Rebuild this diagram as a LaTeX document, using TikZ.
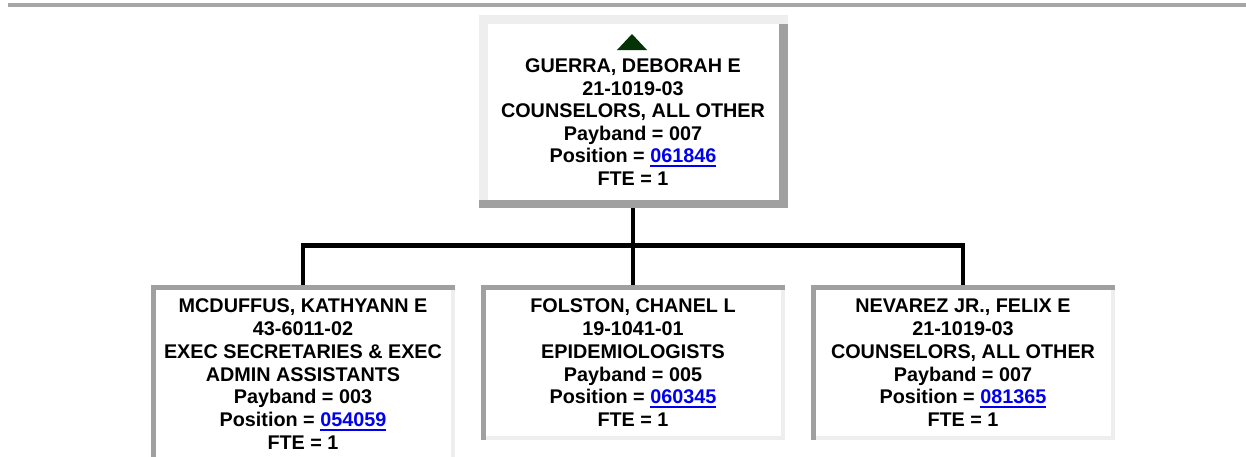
\documentclass[tikz,border=0pt]{standalone}
\usepackage{fontspec}
\setmainfont{Liberation Sans}
\usetikzlibrary{calc}
\definecolor{lightg}{HTML}{EEEEEE}
\definecolor{darkg}{HTML}{A0A0A0}
\definecolor{topline}{HTML}{A6A6A6}
\definecolor{linkblue}{HTML}{0000EE}
\definecolor{arrowgreen}{HTML}{053305}
\newcommand{\poslink}[1]{{\color{linkblue}\setbox0\hbox{#1}\rlap{\rule[-3.8pt]{\wd0}{1.8pt}}\box0}}
\newcommand{\cardlines}[1]{\begin{tabular}[t]{@{}c@{}}#1\end{tabular}}
\begin{document}
\begin{tikzpicture}[x=1pt,y=-1pt,
  orgbox/.style={rectangle, fill=white, inner sep=0pt, outer sep=0pt},
  cardtext/.style={inner sep=0pt, outer sep=0pt, anchor=base, text=black,
    font=\fontsize{19.8}{22.8}\selectfont\bfseries},
  conn/.style={draw=black, line width=4.2pt}]
\useasboundingbox (0,0) rectangle (1246,456);
\fill[topline] (8,3.3) rectangle (1246,7.3);

% boxes
\node[orgbox, minimum width=309pt, minimum height=193pt] (boss) at (633,111.5) {};
\node[orgbox, minimum width=304pt, minimum height=200pt] (c1) at (303,385) {};
\node[orgbox, minimum width=304pt, minimum height=155pt] (c2) at (633,362.5) {};
\node[orgbox, minimum width=304pt, minimum height=155pt] (c3) at (963,362.5) {};

% connectors
\coordinate (hub) at (633,245.5);
\draw[conn] (boss.south) -- (c2.north);
\draw[conn] (c1.north) |- (hub) -| (c3.north);

% top box borders (outset)
\fill[lightg] (boss.north west) rectangle ($(boss.north east)+(0,8.5)$);
\fill[lightg] (boss.north west) rectangle ($(boss.south west)+(9,0)$);
\fill[darkg] ($(boss.north east)+(-9,8.5)$) rectangle (boss.south east);
\fill[darkg] ($(boss.south west)+(0,-8.5)$) rectangle (boss.south east);

% child borders (inset)
\foreach \c in {c1,c2,c3}{
  \fill[darkg] (\c.north west) rectangle ($(\c.north east)+(0,4.5)$);
  \fill[darkg] (\c.north west) rectangle ($(\c.south west)+(4.5,0)$);
  \fill[lightg] ($(\c.north east)+(-4.5,4.5)$) rectangle (\c.south east);
  \fill[lightg] ($(\c.south west)+(4.5,-4.5)$) rectangle (\c.south east);
}

% collapse arrow
\fill[arrowgreen] (617,50) -- (632,34) -- (647,50) -- cycle;

% texts
\node[cardtext, font=\fontsize{19.8}{22.5}\selectfont\bfseries] (bosstext) at (633,72.7) {\cardlines{GUERRA, DEBORAH E\\ 21-1019-03\\ COUNSELORS, ALL OTHER\\ Payband = 007\\ Position = \poslink{061846}\\ FTE = 1}};
\node[cardtext] (c1text) at (303,312.7) {\cardlines{MCDUFFUS, KATHYANN E\\ 43-6011-02\\ EXEC SECRETARIES \& EXEC\\ ADMIN ASSISTANTS\\ Payband = 003\\ Position = \poslink{054059}\\ FTE = 1}};
\node[cardtext] (c2text) at (633,312.7) {\cardlines{FOLSTON, CHANEL L\\ 19-1041-01\\ EPIDEMIOLOGISTS\\ Payband = 005\\ Position = \poslink{060345}\\ FTE = 1}};
\node[cardtext] (c3text) at (963,312.7) {\cardlines{NEVAREZ JR., FELIX E\\ 21-1019-03\\ COUNSELORS, ALL OTHER\\ Payband = 007\\ Position = \poslink{081365}\\ FTE = 1}};
\end{tikzpicture}
\end{document}
